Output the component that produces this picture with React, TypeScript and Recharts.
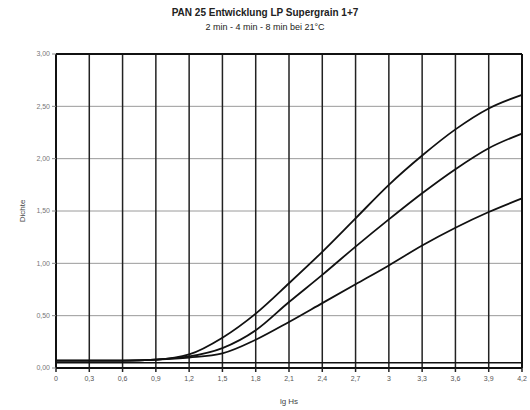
import { LineChart, Line, XAxis, YAxis, CartesianGrid, ReferenceLine, Label } from 'recharts';

const logH = [0, 0.3, 0.6, 0.9, 1.2, 1.5, 1.8, 2.1, 2.4, 2.7, 3.0, 3.3, 3.6, 3.9, 4.2];
const dichte8min = [0.07, 0.07, 0.07, 0.08, 0.13, 0.29, 0.52, 0.81, 1.11, 1.43, 1.75, 2.03, 2.28, 2.48, 2.61];
const dichte4min = [0.07, 0.07, 0.07, 0.08, 0.11, 0.19, 0.36, 0.63, 0.89, 1.16, 1.42, 1.67, 1.9, 2.1, 2.24];
const dichte2min = [0.07, 0.07, 0.07, 0.08, 0.1, 0.14, 0.27, 0.44, 0.62, 0.8, 0.98, 1.17, 1.34, 1.49, 1.62];
const yTicks = [0, 0.5, 1, 1.5, 2, 2.5, 3];

const data = logH.map((x, i) => ({
  x,
  m8: dichte8min[i],
  m4: dichte4min[i],
  m2: dichte2min[i],
}));

const fmtX = (v: number) => (v === 0 ? '0' : v === 3 ? '3' : v.toFixed(1).replace('.', ','));
const fmtY = (v: number) => v.toFixed(2).replace('.', ',');

const font = 'Liberation Sans, Arial, sans-serif';

export default function App() {
  return (
    <div style={{ position: 'absolute', left: 0, top: 0, width: 530, height: 410, background: '#fff', fontFamily: font }}>
      <div style={{ position: 'absolute', top: 7, width: 530, textAlign: 'center', fontSize: 10, fontWeight: 'bold', color: '#222' }}>
        PAN 25 Entwicklung LP Supergrain 1+7
      </div>
      <div style={{ position: 'absolute', top: 22, width: 530, textAlign: 'center', fontSize: 9, color: '#222' }}>
        2 min - 4 min - 8 min bei 21°C
      </div>
      <LineChart width={530} height={410} data={data} margin={{ top: 54, right: 8, left: 26, bottom: 2 }}>
        <CartesianGrid vertical={false} stroke="#9a9a9a" strokeWidth={1} />
        <CartesianGrid horizontal={false} stroke="#222" strokeWidth={1.5} />
        <XAxis
          dataKey="x"
          type="number"
          domain={[0, 4.2]}
          ticks={logH}
          tickFormatter={fmtX}
          height={40}
          tickMargin={4}
          tick={{ fontSize: 7, fill: '#555', fontFamily: font }}
          tickSize={4}
          tickLine={{ stroke: '#222', strokeWidth: 1.5 }}
          axisLine={{ stroke: '#111', strokeWidth: 2 }}
        >
          <Label value="lg Hs" position="insideBottom" offset={4} style={{ fontSize: 8, fill: '#444', fontFamily: font }} />
        </XAxis>
        <YAxis
          type="number"
          domain={[0, 3]}
          ticks={yTicks}
          tickFormatter={fmtY}
          width={30}
          tick={{ fontSize: 7, fill: '#777', fontFamily: font }}
          tickSize={4}
          tickLine={{ stroke: '#888' }}
          axisLine={{ stroke: '#111', strokeWidth: 2 }}
        >
          <Label value="Dichte" angle={-90} position="insideLeft" offset={-4} style={{ fontSize: 8, fill: '#444', fontFamily: font, textAnchor: 'middle' }} />
        </YAxis>
        <ReferenceLine y={3} stroke="#111" strokeWidth={2} />
        <ReferenceLine x={4.2} stroke="#111" strokeWidth={2} />
        <ReferenceLine y={0.05} stroke="#111" strokeWidth={1.5} />
        <Line type="monotone" dataKey="m8" stroke="#111" strokeWidth={1.8} dot={false} isAnimationActive={false} />
        <Line type="monotone" dataKey="m4" stroke="#111" strokeWidth={1.8} dot={false} isAnimationActive={false} />
        <Line type="monotone" dataKey="m2" stroke="#111" strokeWidth={1.8} dot={false} isAnimationActive={false} />
      </LineChart>
    </div>
  );
}
